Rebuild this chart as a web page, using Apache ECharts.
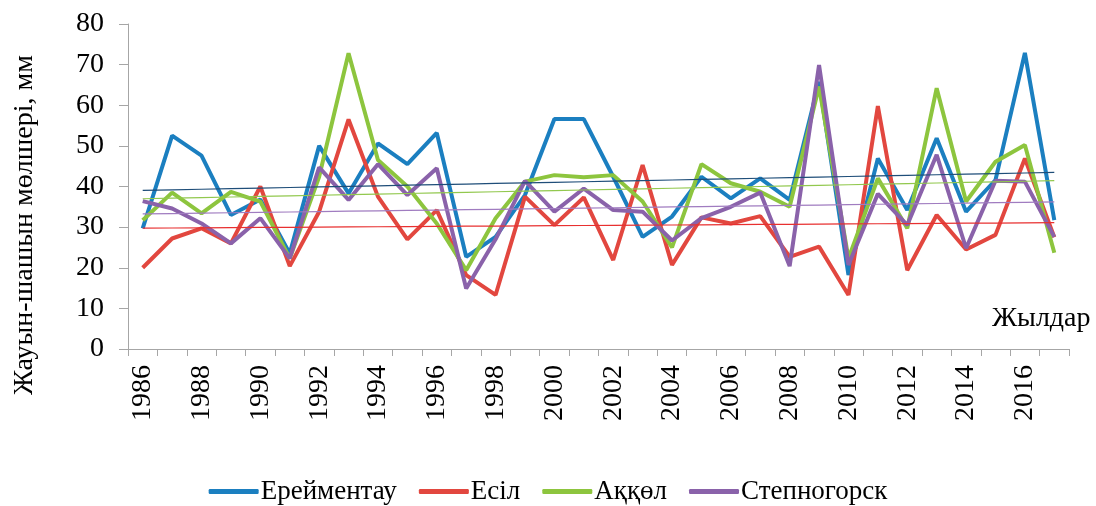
<!DOCTYPE html>
<html>
<head>
<meta charset="utf-8">
<script src="https://cdn.jsdelivr.net/npm/echarts@6/dist/echarts.min.js"></script>
<style>
  html, body { margin: 0; padding: 0; background: #fff; }
  #main { width: 1096px; height: 506px; }
</style>
</head>
<body>
<div id="main"></div>
<script>
var years = [];
for (var y = 1986; y <= 2017; y++) years.push(String(y));

var ereymentau = [29.7, 52.5, 47.6, 33.0, 36.8, 23.5, 50.0, 38.3, 50.6, 45.5, 53.2, 22.7, 27.6, 37.9, 56.6, 56.6,
  42.4, 27.6, 32.6, 42.4, 37.1, 42.0, 36.7, 65.8, 18.2, 46.9, 34.2, 51.9, 33.8, 41.6, 72.9, 31.7];
var esil = [20.0, 27.2, 29.7, 26.0, 40.0, 20.4, 33.8, 56.5, 37.5, 27.0, 34.2, 18.2, 13.3, 37.5, 30.5, 37.3,
  21.9, 45.3, 20.7, 32.4, 30.9, 32.7, 22.7, 25.2, 13.3, 59.8, 19.4, 33.0, 24.5, 28.1, 46.9, 27.5];
var akkol = [31.7, 38.5, 33.4, 38.7, 36.3, 22.3, 42.4, 72.8, 46.5, 40.0, 30.9, 19.4, 32.2, 41.2, 42.8, 42.3,
  42.8, 36.3, 25.0, 45.5, 40.8, 38.7, 35.0, 64.6, 22.3, 42.0, 29.7, 64.2, 36.3, 46.1, 50.2, 23.7];
var stepnogorsk = [36.4, 34.6, 30.9, 26.0, 32.2, 22.3, 44.7, 36.7, 45.5, 37.9, 44.5, 14.9, 27.0, 41.4, 33.8, 39.5,
  34.2, 33.8, 26.7, 32.2, 35.0, 38.5, 20.4, 69.9, 20.7, 38.2, 30.5, 47.8, 24.8, 41.4, 41.2, 27.6];

var names = ['Ерейментау', 'Есіл', 'Аққөл', 'Степногорск'];
var colors = ['#1B7FC0', '#E2473F', '#8DC53E', '#8A62AA'];
var trendColors = ['#1F4E79', '#E83030', '#92C84E', '#A07CC0'];
var seriesData = [ereymentau, esil, akkol, stepnogorsk];

// linear trend (least squares), like the Excel trendline
function trend(arr) {
  var n = arr.length, sx = 0, sy = 0, sxy = 0, sxx = 0;
  for (var i = 0; i < n; i++) { sx += i; sy += arr[i]; sxy += i * arr[i]; sxx += i * i; }
  var b = (n * sxy - sx * sy) / (n * sxx - sx * sx);
  var a = (sy - b * sx) / n;
  return arr.map(function (v, i) { return +(a + b * i).toFixed(3); });
}

var series = [];
seriesData.forEach(function (d, k) {
  series.push({
    name: names[k],
    type: 'line',
    data: d,
    symbol: 'none',
    lineStyle: { width: 4, color: colors[k] },
    itemStyle: { color: colors[k] },
    z: 3
  });
});
seriesData.forEach(function (d, k) {
  series.push({
    name: names[k] + ' trend',
    type: 'line',
    data: trend(d),
    symbol: 'none',
    silent: true,
    lineStyle: { width: 1.2, color: trendColors[k] },
    z: 4
  });
});

var font = 'Liberation Serif';
var chart = echarts.init(document.getElementById('main'));
chart.setOption({
  animation: false,
  textStyle: { fontFamily: font },
  grid: { left: 128, right: 27, top: 24, bottom: 157 },
  legend: {
    data: names,
    bottom: -4,
    left: 'center',
    icon: 'roundRect',
    itemWidth: 50,
    itemHeight: 5,
    itemGap: 22,
    textStyle: { fontSize: 27, color: '#000', fontFamily: font, padding: [0, 0, 0, -3] }
  },
  xAxis: {
    type: 'category',
    data: years,
    boundaryGap: true,
    axisLine: { lineStyle: { color: '#A6A6A6', width: 1 } },
    axisTick: { show: true, interval: 0, length: 7, lineStyle: { color: '#A6A6A6' } },
    axisLabel: { interval: 1, rotate: 90, fontSize: 28, color: '#000', margin: 16 }
  },
  yAxis: {
    type: 'value',
    min: 0,
    max: 80,
    interval: 10,
    axisLine: { show: true, lineStyle: { color: '#A6A6A6', width: 1 } },
    axisTick: { show: true, length: 9, lineStyle: { color: '#A6A6A6' } },
    axisLabel: { fontSize: 28, color: '#000', margin: 24 },
    splitLine: { show: false }
  },
  graphic: [{
    type: 'text',
    x: 25,
    y: 225,
    rotation: Math.PI / 2,
    style: {
      text: 'Жауын-шашын мөлшері, мм',
      fontSize: 28, fill: '#000', fontFamily: font,
      align: 'center', verticalAlign: 'middle'
    }
  }, {
    type: 'text',
    left: 992,
    top: 305,
    style: { text: 'Жылдар', fontSize: 28, fill: '#000', fontFamily: font }
  }],
  series: series
});
</script>
</body>
</html>
